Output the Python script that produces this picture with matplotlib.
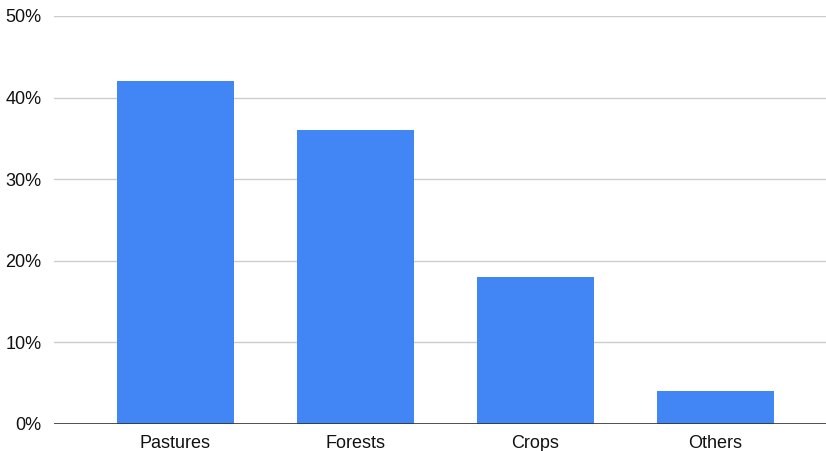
import matplotlib.pyplot as plt
from matplotlib.ticker import FuncFormatter

# Land use shares
categorias = ["Pastures", "Forests", "Crops", "Others"]
valores = [42, 36, 18, 4]
marcas_y = [0, 10, 20, 30, 40, 50]

plt.rcParams['font.family'] = ['Liberation Sans', 'DejaVu Sans']

fig = plt.figure(figsize=(8.26, 4.51), dpi=100)
ax = fig.add_axes([54 / 826, 1 - 424 / 451, 772 / 826, 408 / 451])

posicoes = range(len(categorias))
ax.bar(posicoes, valores, width=0.65, color='#4285f4', zorder=3)

ax.set_xlim(-0.675, 3.614)
ax.set_ylim(0, 50)
ax.set_yticks(marcas_y)
ax.yaxis.set_major_formatter(FuncFormatter(lambda v, p: f"{v:.0f}%"))
ax.set_xticks(list(posicoes))
ax.set_xticklabels(categorias)

# Gridlines and axis styling
ax.grid(axis='y', color='#cccccc', linewidth=1, zorder=0)
ax.axhline(0, color='#333333', linewidth=1.2, zorder=4)
for lado in ['top', 'right', 'left', 'bottom']:
    ax.spines[lado].set_visible(False)
ax.tick_params(axis='both', length=0, labelsize=13, colors='#111111')
ax.tick_params(axis='y', pad=9)
ax.tick_params(axis='x', pad=8)

fig.savefig('out.png', dpi=100)
plt.close()
